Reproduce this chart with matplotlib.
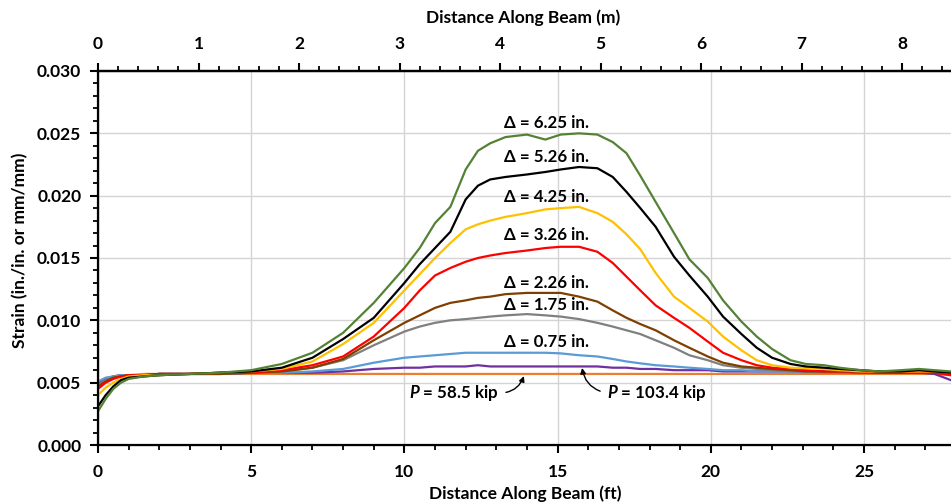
import matplotlib
matplotlib.use("Agg")
import matplotlib.pyplot as plt
from matplotlib.ticker import MultipleLocator, FormatStrFormatter

plt.rcParams['font.family'] = ['Lato', 'DejaVu Sans']
plt.rcParams['font.weight'] = 'bold'
plt.rcParams['mathtext.fontset'] = 'custom'
plt.rcParams['mathtext.bfit'] = 'Lato:italic:bold'
plt.rcParams['mathtext.it'] = 'Lato:italic:bold'
plt.rcParams['mathtext.rm'] = 'Lato:bold'

FS = 12.5

# ---------------- data (distance in ft, strain in in./in.) ----------------
x_ft = [0, 0.25, 0.5, 0.75, 1, 1.5, 2, 3, 4, 5, 6, 7, 8, 9, 10, 10.5, 11, 11.5,
        12, 12.4, 12.8, 13.3, 14, 14.6, 15.1, 15.7, 16.3, 16.8, 17.25, 17.7,
        18.2, 18.8, 19.3, 19.9, 20.4, 21, 21.5, 22, 22.6, 23.1, 23.7, 24.2,
        24.9, 25.5, 26.2, 26.8, 27.3, 27.84]

p_58_5 = [0.0049, 0.0053, 0.0055, 0.0056, 0.0056, 0.0057, 0.0057, 0.0057, 0.0057, 0.0057,
          0.0057, 0.0057, 0.0057, 0.0057, 0.0057, 0.0057, 0.0057, 0.0057,
          0.0057, 0.0057, 0.0057, 0.0057, 0.0057, 0.0057, 0.0057, 0.0057, 0.0057,
          0.0057, 0.0057, 0.0057, 0.0057, 0.0057, 0.0057, 0.0057, 0.0057, 0.0057,
          0.0057, 0.0057, 0.0057, 0.0057, 0.0057, 0.0057, 0.0057, 0.0057, 0.0057,
          0.0057, 0.0057, 0.0056]
p_103_4 = [0.0050, 0.0053, 0.0055, 0.0056, 0.0056, 0.0056, 0.0057, 0.0057, 0.0057, 0.0058,
           0.0058, 0.0058, 0.0059, 0.0061, 0.0062, 0.0062, 0.0063, 0.0063,
           0.0063, 0.0064, 0.0063, 0.0063, 0.0063, 0.0063, 0.0063, 0.0063, 0.0063,
           0.0062, 0.0062, 0.0061, 0.0061, 0.0060, 0.0060, 0.0060, 0.0059, 0.0059,
           0.0059, 0.0059, 0.0059, 0.0059, 0.0058, 0.0058, 0.0058, 0.0058, 0.0058,
           0.0058, 0.0057, 0.0052]
d_0_75 = [0.0051, 0.0054, 0.0055, 0.0056, 0.0056, 0.0056, 0.0057, 0.0057, 0.0057, 0.0058,
          0.0058, 0.0059, 0.0061, 0.0066, 0.0070, 0.0071, 0.0072, 0.0073,
          0.0074, 0.0074, 0.0074, 0.0074, 0.0074, 0.0074, 0.00735, 0.0072, 0.0071,
          0.0069, 0.0067, 0.00655, 0.0064, 0.0063, 0.0062, 0.0061, 0.0060, 0.0060,
          0.0059, 0.0059, 0.0059, 0.0058, 0.0058, 0.0058, 0.0058, 0.0058, 0.0058,
          0.0058, 0.0058, 0.0057]
d_1_75 = [0.0048, 0.0052, 0.0054, 0.0055, 0.0056, 0.0056, 0.0057, 0.0057, 0.0057, 0.0058,
          0.0059, 0.0062, 0.0068, 0.0080, 0.0091, 0.0095, 0.0098, 0.0100,
          0.0101, 0.0102, 0.0103, 0.0104, 0.0105, 0.0104, 0.0103, 0.0101, 0.0098,
          0.0095, 0.0092, 0.0089, 0.0084, 0.0078, 0.0072, 0.0068, 0.0064, 0.0062,
          0.0061, 0.0060, 0.0059, 0.0059, 0.0059, 0.0058, 0.0058, 0.0058, 0.0058,
          0.0058, 0.0058, 0.0057]
d_2_26 = [0.0047, 0.0051, 0.0054, 0.0055, 0.0056, 0.0056, 0.0057, 0.0057, 0.0057, 0.0058,
          0.0059, 0.0062, 0.0069, 0.0084, 0.0098, 0.0104, 0.0110, 0.0114,
          0.0116, 0.0118, 0.0119, 0.0121, 0.0122, 0.0122, 0.0122, 0.0119, 0.0115,
          0.0108, 0.0102, 0.0097, 0.0092, 0.0084, 0.0078, 0.0071, 0.0066, 0.0063,
          0.0062, 0.0061, 0.0060, 0.0059, 0.0059, 0.0059, 0.0058, 0.0058, 0.0058,
          0.0058, 0.0058, 0.0057]
d_3_26 = [0.0045, 0.0050, 0.0053, 0.0055, 0.0056, 0.0056, 0.0057, 0.0057, 0.0058, 0.0058,
          0.0060, 0.0064, 0.0071, 0.0087, 0.0110, 0.0124, 0.0136, 0.0142,
          0.0147, 0.0150, 0.0152, 0.0154, 0.0156, 0.0158, 0.0159, 0.0159, 0.0155,
          0.0146, 0.0135, 0.0124, 0.0112, 0.0102, 0.0094, 0.0083, 0.0074, 0.0068,
          0.0064, 0.0062, 0.0061, 0.0060, 0.0059, 0.0059, 0.0059, 0.0058, 0.0058,
          0.0058, 0.0058, 0.0056]
d_4_25 = [0.0040, 0.0046, 0.0050, 0.0053, 0.0055, 0.0056, 0.0056, 0.0057, 0.0058, 0.0059,
          0.0061, 0.0067, 0.0081, 0.0098, 0.0124, 0.0137, 0.0150, 0.0162,
          0.0173, 0.0177, 0.0180, 0.0183, 0.0186, 0.0189, 0.0190, 0.0191, 0.0186,
          0.0179, 0.0169, 0.0157, 0.0138, 0.0119, 0.0110, 0.0099, 0.0087, 0.0076,
          0.0068, 0.0064, 0.0062, 0.00615, 0.0061, 0.0060, 0.0059, 0.0059, 0.0059,
          0.0059, 0.0059, 0.0058]
d_5_26 = [0.0031, 0.0040, 0.0047, 0.0052, 0.0054, 0.0055, 0.0056, 0.0057, 0.0058, 0.0059,
          0.0062, 0.0070, 0.0085, 0.0102, 0.0130, 0.0145, 0.0158, 0.0171,
          0.0197, 0.0208, 0.0213, 0.0215, 0.0217, 0.0219, 0.0221, 0.0223, 0.0222,
          0.0215, 0.0203, 0.0190, 0.0175, 0.0151, 0.0136, 0.0119, 0.0103, 0.0089,
          0.0078, 0.0070, 0.0065, 0.0063, 0.0062, 0.0061, 0.0060, 0.0059, 0.0059,
          0.0060, 0.0059, 0.0058]
d_6_25 = [0.0027, 0.0037, 0.0045, 0.0050, 0.0053, 0.0055, 0.0056, 0.0057, 0.0058, 0.0060,
          0.0065, 0.0074, 0.0090, 0.0114, 0.0142, 0.0158, 0.0178, 0.0191,
          0.0221, 0.0236, 0.0242, 0.0247, 0.0249, 0.0245, 0.0249, 0.0250, 0.0249,
          0.0243, 0.0234, 0.0216, 0.0195, 0.0170, 0.0149, 0.0134, 0.0116, 0.0099,
          0.0087, 0.0077, 0.0068, 0.0065, 0.0064, 0.0062, 0.0060, 0.0059, 0.0060,
          0.0061, 0.0060, 0.0059]

series = [p_58_5, p_103_4, d_0_75, d_1_75, d_2_26, d_3_26, d_4_25, d_5_26, d_6_25]
colors = ['#ED7D31', '#7030A0', '#5B9BD5', '#808080', '#7F3F00', '#FF0000',
          '#FFC000', '#000000', '#548235']

delta_labels = ['Δ = 6.25 in.', 'Δ = 5.26 in.', 'Δ = 4.25 in.', 'Δ = 3.26 in.',
                'Δ = 2.26 in.', 'Δ = 1.75 in.', 'Δ = 0.75 in.']
delta_label_y = [0.0258, 0.0231, 0.0199, 0.01685, 0.0130, 0.0112, 0.0083]
delta_label_x = 14.65

FT_PER_M = 3.2808

# ---------------- figure ----------------
W, H = 951, 504
fig = plt.figure(figsize=(W / 100, H / 100), dpi=100)
left, right, top, bottom = 98, 951, 71, 445
ax = fig.add_axes([left / W, 1 - bottom / H, (right - left) / W, (bottom - top) / H])

for ys, c in zip(series, colors):
    ax.plot(x_ft, ys, color=c, lw=1.6, solid_joinstyle='round', zorder=3)

ax.set_xlim(0, 27.84)
ax.set_ylim(0, 0.030)
ax.xaxis.set_major_locator(MultipleLocator(5))
ax.xaxis.set_minor_locator(MultipleLocator(1))
ax.yaxis.set_major_locator(MultipleLocator(0.005))
ax.yaxis.set_minor_locator(MultipleLocator(0.001))
ax.yaxis.set_major_formatter(FormatStrFormatter('%.3f'))
ax.grid(True, which='major', color='#d4d4d4', lw=1.0, zorder=0)
ax.set_axisbelow(True)

ax.spines['right'].set_visible(False)
for s in ['left', 'bottom', 'top']:
    ax.spines[s].set_linewidth(1.6)

ax.tick_params(axis='both', which='major', direction='out', length=6, width=1.5,
               labelsize=FS, colors='black')
ax.tick_params(axis='both', which='minor', direction='out', length=3.5, width=1.3)
ax.tick_params(axis='x', which='major', pad=8)
ax.tick_params(axis='y', which='major', pad=6)
for lab in ax.get_xticklabels() + ax.get_yticklabels():
    lab.set_fontweight('bold')

# top axis in metres
ax2 = ax.twiny()
ax2.set_xlim(0, 27.84 / FT_PER_M)
ax2.xaxis.set_major_locator(MultipleLocator(1))
ax2.xaxis.set_minor_locator(MultipleLocator(0.2))
ax2.spines['right'].set_visible(False)
ax2.spines['top'].set_linewidth(1.6)
ax2.tick_params(axis='x', which='major', direction='out', length=6, width=1.5,
                labelsize=FS, pad=8)
ax2.tick_params(axis='x', which='minor', direction='out', length=3.5, width=1.3)
for lab in ax2.get_xticklabels():
    lab.set_fontweight('bold')

# labels
fig.text(523 / W, 1 - 18 / H, 'Distance Along Beam (m)', ha='center', va='center',
         fontsize=FS, fontweight='bold')
fig.text(525 / W, 1 - 494 / H, 'Distance Along Beam (ft)', ha='center', va='center',
         fontsize=FS, fontweight='bold')
fig.text(20 / W, 1 - 250 / H, 'Strain (in./in. or mm/mm)', ha='center', va='center',
         rotation=90, fontsize=FS, fontweight='bold')

for t, yv in zip(delta_labels, delta_label_y):
    ax.text(delta_label_x, yv, t, ha='center', va='center', fontsize=12.2,
            fontweight='bold', zorder=5)

ax.annotate(r'$\mathit{P}$ = 58.5 kip', xy=(13.9, 0.00553), xytext=(13.09, 0.00417),
            ha='right', va='center', fontsize=12.2, fontweight='bold',
            arrowprops=dict(arrowstyle='-|>', color='black', lw=1.0,
                            connectionstyle='arc3,rad=0.35', relpos=(1.0, 0.5),
                            shrinkA=3, shrinkB=0, mutation_scale=8))
ax.annotate(r'$\mathit{P}$ = 103.4 kip', xy=(15.8, 0.00618), xytext=(16.61, 0.00417),
            ha='left', va='center', fontsize=12.2, fontweight='bold',
            arrowprops=dict(arrowstyle='-|>', color='black', lw=1.0,
                            connectionstyle='arc3,rad=-0.35', relpos=(0.0, 0.5),
                            shrinkA=3, shrinkB=0, mutation_scale=8))

fig.savefig('out.png', dpi=100)
